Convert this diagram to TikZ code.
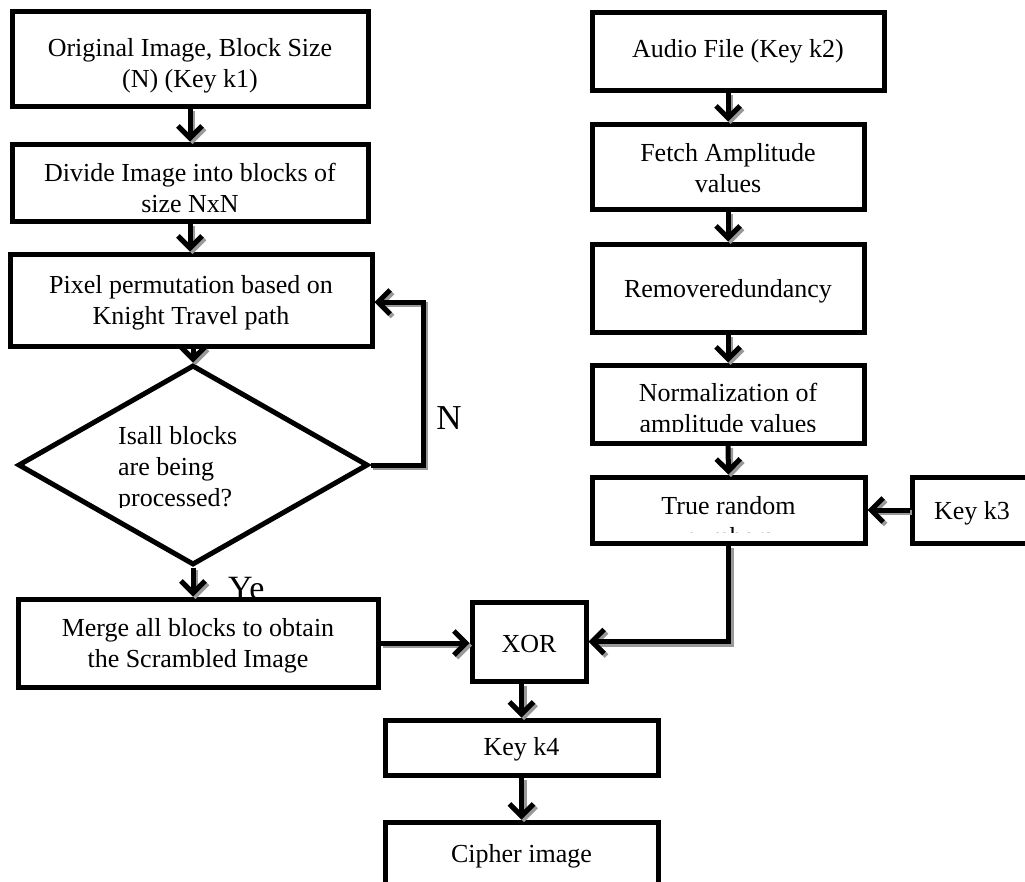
\documentclass[tikz,border=0pt]{standalone}
\usepackage{fontspec}
\setmainfont{Liberation Serif}
\usetikzlibrary{arrows.meta,shapes.geometric}
\newcommand\conn[1]{%
  \begin{scope}[transform canvas={shift={(2.5pt,-2.5pt)}}]\draw[arrsh] #1;\end{scope}
  \draw[arr] #1;}
\begin{document}
\begin{tikzpicture}[x=1pt,y=-1pt,
  txt/.style={font=\fontsize{26}{31}\selectfont, align=center, inner sep=0pt},
  box/.style={txt, draw, line width=5pt, fill=white},
  arr/.style={line width=5pt, -{Straight Barb[length=12pt,width=24pt,line width=5pt]}},
  arrsh/.style={arr, draw=black!40}
]
\useasboundingbox (0,0) rectangle (1025,881);
\clip (0,0) rectangle (1025,881);

% left column
\node[box, minimum width=356pt, minimum height=95pt] (b1) at (190,58.5) {};
\node[txt] (b1t) at (190,66) {Original Image, Block Size\\(N) (Key k1)};
\node[box, minimum width=356pt, minimum height=77pt] (b2) at (190,182.5) {};
\node[txt] (b2t) at (190,188) {Divide Image into blocks of\\size NxN};
\node[box, minimum width=362pt, minimum height=92pt] (b3) at (191,300) {};
\node[txt] (b3t) at (191,303) {Pixel permutation based on\\Knight Travel path};
\node[draw, diamond, line width=5pt, fill=white, minimum width=350pt, minimum height=200pt, inner sep=0pt] (dia) at (193,465) {};
\begin{scope}
  \clip (60,410) rectangle (330,507);
  \node[txt, anchor=west, align=left] (diat) at (118,469) {Isall blocks\\are being\\processed?};
\end{scope}
\node[font=\fontsize{35}{35}\selectfont, inner sep=0pt] (nlab) at (449,418) {N};
\node[font=\fontsize{34}{34}\selectfont, anchor=base west, inner sep=0pt] (ylab) at (228,599) {Ye};
\node[box, minimum width=360pt, minimum height=88pt] (merge) at (198,643) {};
\node[txt] (merget) at (198,646) {Merge all blocks to obtain\\the Scrambled Image};

% bottom
\node[box, minimum width=114pt, minimum height=79pt] (xor) at (529,641.5) {};
\node[txt] (xort) at (529,644.5) {XOR};
\node[box, minimum width=273pt, minimum height=55pt] (k4) at (521.5,747.5) {};
\node[txt] (k4t) at (521.5,749.5) {Key k4};
\node[box, minimum width=273pt, minimum height=66pt] (cipher) at (521.5,855) {};
\node[txt] (ciphert) at (521.5,856) {Cipher image};

% right column
\node[box, minimum width=292pt, minimum height=78pt] (audio) at (738,51) {};
\node[txt] (audiot) at (738,51) {Audio File (Key k2)};
\node[box, minimum width=272pt, minimum height=85pt] (fetch) at (728,166.5) {};
\node[txt] (fetcht) at (728,168) {Fetch Amplitude\\values};
\node[box, minimum width=272pt, minimum height=88pt] (remove) at (728,288) {};
\node[txt] (removet) at (728,291) {Removeredundancy};
\node[box, minimum width=272pt, minimum height=78pt] (norm) at (728,404) {};
\begin{scope}
  \clip (600,370) rectangle (860,431);
  \node[txt] (normt) at (728,411) {Normalization of\\amplitude values};
\end{scope}
\node[box, minimum width=273pt, minimum height=66pt] (truer) at (728.5,510) {};
\begin{scope}
  \clip (600,482) rectangle (860,532);
  \node[txt] (truet) at (728.5,521) {True random\\numbers};
\end{scope}
\node[box, minimum width=128pt, minimum height=66pt] (k3) at (976,510) {};
\node[txt] (k3t) at (972,513) {Key k3};

% connectors
\coordinate (nc) at (423,302);
\conn{(b1.south) -- (b2.north)}
\conn{(b2.south) -- (b2.south |- b3.north)}
\conn{(b3.south -| dia.north) -- (dia.north)}
\conn{(dia.east) -| (nc) -- (b3.east |- nc)}
\conn{(dia.south) -- (dia.south |- merge.north)}
\conn{(merge.east) -- (xor.west |- merge.east)}
\conn{(truer.south) |- (xor.east)}
\conn{(k3.west |- truer.east) -- (truer.east)}
\conn{(k4.north |- xor.south) -- (k4.north)}
\conn{(k4.south) -- (cipher.north)}
\conn{(fetch.north |- audio.south) -- (fetch.north)}
\conn{(fetch.south) -- (remove.north)}
\conn{(remove.south) -- (norm.north)}
\conn{(norm.south) -- (truer.north)}
\end{tikzpicture}
\end{document}
